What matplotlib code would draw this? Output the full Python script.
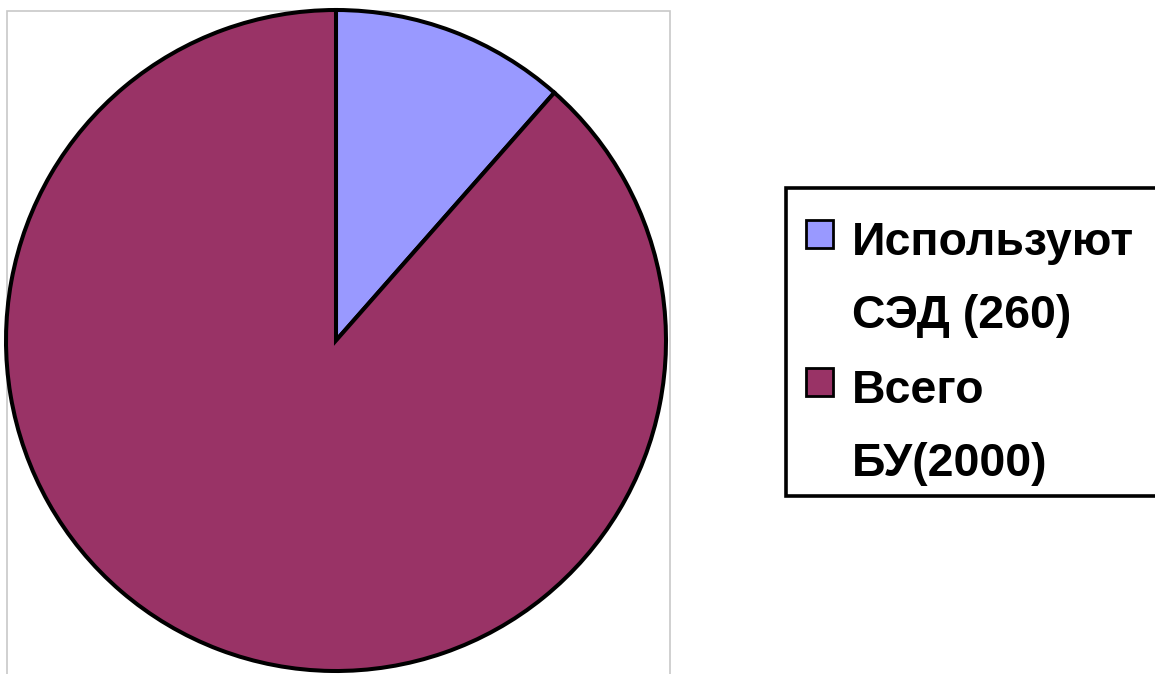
import matplotlib
matplotlib.use("Agg")
import matplotlib.pyplot as plt
from matplotlib.patches import Rectangle

labels = ["Используют\nСЭД (260)", "Всего\nБУ(2000)"]
values = [260, 2000]
colors = ["#9999FF", "#993366"]

W, H = 1155, 674
fig = plt.figure(figsize=(W / 100, H / 100), dpi=100)
fig.patch.set_facecolor("white")

def fx(px):
    return px / W

def fy(py):
    return 1 - py / H

# plot-area border (light gray)
fig.add_artist(Rectangle((fx(7), fy(680)), fx(670) - fx(7), fy(11) - fy(680),
                         transform=fig.transFigure, fill=False,
                         edgecolor="#c8c8c8", lw=1.2, zorder=0))

ax = fig.add_axes([fx(6), fy(671), fx(666) - fx(6), fy(10) - fy(671)])
ax.pie(values, colors=colors, startangle=90, counterclock=False,
       wedgeprops=dict(edgecolor="black", linewidth=2.9))
ax.set_xlim(-1, 1)
ax.set_ylim(-1, 1)
ax.set_aspect("auto")
ax.axis("off")

# legend frame
fig.add_artist(Rectangle((fx(786), fy(496)), fx(1170) - fx(786), fy(188) - fy(496),
                         transform=fig.transFigure, facecolor="white",
                         edgecolor="black", lw=2.6, zorder=2))

first_baselines = [255, 403]
line_step = 73
for lab, col, b0 in zip(labels, colors, first_baselines):
    fig.add_artist(Rectangle((fx(806), fy(b0 - 7)), fx(833) - fx(806), fy(b0 - 35) - fy(b0 - 7),
                             transform=fig.transFigure, facecolor=col,
                             edgecolor="black", lw=2.0, zorder=3))
    for i, line in enumerate(lab.split("\n")):
        fig.text(fx(852), fy(b0 + i * line_step), line, fontsize=33.5,
                 fontweight="bold", family="Liberation Sans",
                 va="baseline", ha="left", zorder=4)

fig.savefig("out.png", dpi=100, facecolor="white")
